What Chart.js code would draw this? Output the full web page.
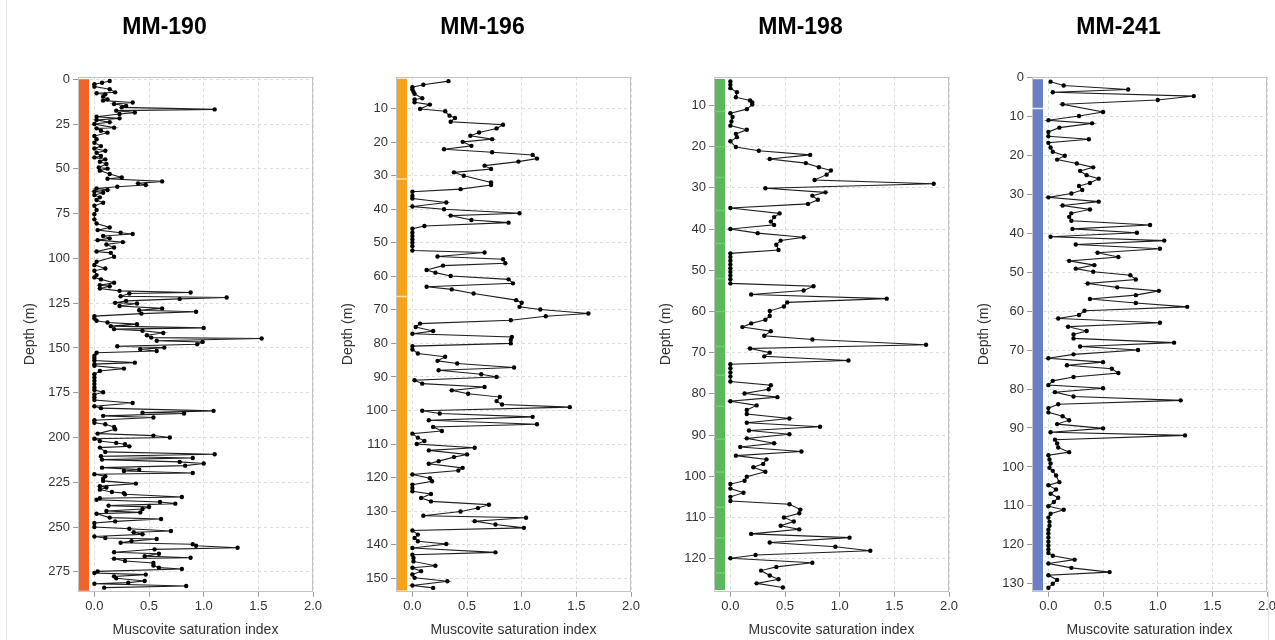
<!DOCTYPE html>
<html>
<head>
<meta charset="utf-8">
<title>Muscovite saturation index</title>
<script src="https://cdn.jsdelivr.net/npm/chart.js@4.4.1/dist/chart.umd.min.js"></script>
<style>
  html, body { margin: 0; padding: 0; background: #fff; }
  body { width: 1275px; height: 640px; position: relative; overflow: hidden; }
  .painel { position: absolute; top: 0; width: 330px; height: 640px; }
  .borda-esq { position: absolute; left: 6px; top: 0; width: 0; height: 640px; border-left: 1px solid #e4e4e4; }
  .borda-dir { position: absolute; left: 1268px; top: 590px; width: 0; height: 50px; border-left: 1px solid #e4e4e4; }
</style>
</head>
<body>
<div class="borda-esq"></div>
<div class="borda-dir"></div>
<div class="painel" style="left:0px"><canvas id="grafico1"></canvas></div>
<div class="painel" style="left:318px"><canvas id="grafico2"></canvas></div>
<div class="painel" style="left:636px"><canvas id="grafico3"></canvas></div>
<div class="painel" style="left:954px"><canvas id="grafico4"></canvas></div>
<script>
// Eixo X comum
const xTicks = [0, 0.5, 1.0, 1.5, 2.0];

// MM-190
const mm190Prof = [0.95, 1.9, 2.8, 4.1, 5.6, 7.3, 7.8, 8.4, 9.7, 11.2, 11.9, 13.0, 13.8, 14.9, 15.7, 16.8, 17.5, 18.6, 19.4, 20.9,
  21.8, 22.7, 23.9, 25.0, 27.0, 27.4, 28.7, 29.8, 31.7, 33.5, 35.4, 37.3, 38.6, 39.9, 41.0, 42.8, 43.6, 44.7, 46.0, 47.3,
  49.2, 49.9, 51.0, 52.9, 54.8, 55.5, 57.0, 58.1, 59.0, 60.0, 60.9, 61.8, 62.6, 63.3, 64.6, 65.9, 67.4, 68.9, 70.6, 73.0,
  75.3, 78.2, 80.5, 82.7, 84.2, 85.7, 86.4, 87.5, 88.8, 89.8, 90.9, 92.2, 93.9, 96.1, 96.9, 99.1, 101.9, 103.7, 105.6, 106.9,
  109.3, 110.6, 111.7, 113.6, 114.9, 115.5, 116.8, 118.1, 119.0, 119.6, 121.1, 121.8, 122.6, 123.7, 124.8, 125.2, 126.6, 127.9, 128.9, 129.8,
  130.8, 132.2, 133.5, 134.8, 135.8, 136.7, 137.8, 138.8, 139.5, 140.4, 141.6, 142.9, 144.2, 144.7, 146.0, 146.6, 147.9, 149.0, 149.8, 150.7,
  151.7, 152.7, 154.3, 155.6, 157.0, 158.2, 159.0, 159.9, 161.5, 162.8, 164.7, 166.5, 168.3, 170.1, 172.0, 173.5, 174.7, 176.0, 177.5, 179.0,
  180.7, 182.5, 183.6, 185.1, 186.1, 186.6, 187.9, 188.8, 190.3, 191.8, 192.6, 194.1, 195.4, 197.8, 198.9, 200.0, 200.7, 201.9, 203.0, 203.7,
  204.9, 205.6, 208.0, 209.3, 210.4, 211.4, 212.3, 213.6, 214.5, 215.7, 216.8, 217.9, 218.7, 219.8, 220.5, 221.6, 223.0, 224.2, 225.7, 227.2,
  227.9, 229.1, 230.4, 231.0, 231.7, 233.2, 233.9, 234.7, 236.0, 236.9, 238.0, 238.8, 239.9, 241.0, 241.8, 242.5, 244.7, 245.5, 246.8, 247.7,
  249.9, 250.9, 252.2, 252.9, 254.0, 255.2, 256.1, 256.6, 257.8, 258.7, 259.6, 260.4, 261.5, 262.4, 264.0, 264.9, 266.2, 267.1, 267.6, 268.9,
  270.0, 271.4, 272.6, 273.4, 274.7, 275.6, 276.5, 277.5, 278.6, 280.1, 281.0, 281.6, 282.9, 283.8];
const mm190SI = [0.14, 0.07, 0.00, 0.00, 0.14, 0.19, 0.02, 0.10, 0.08, 0.12, 0.08, 0.35, 0.18, 0.29, 0.25, 1.10, 0.20, 0.37, 0.23, 0.02,
  0.23, 0.02, 0.14, 0.00, 0.18, 0.02, 0.06, 0.12, 0.00, 0.02, 0.00, 0.06, 0.00, 0.10, 0.02, 0.06, 0.00, 0.10, 0.05, 0.11,
  0.04, 0.12, 0.05, 0.14, 0.25, 0.12, 0.62, 0.40, 0.47, 0.21, 0.02, 0.12, 0.00, 0.08, 0.00, 0.05, 0.02, 0.08, 0.00, 0.02,
  0.00, 0.00, 0.02, 0.14, 0.03, 0.24, 0.35, 0.08, 0.14, 0.03, 0.26, 0.11, 0.18, 0.02, 0.15, 0.18, 0.02, 0.00, 0.10, 0.00,
  0.02, 0.00, 0.06, 0.18, 0.05, 0.14, 0.05, 0.23, 0.88, 0.32, 0.24, 1.21, 0.78, 0.29, 0.19, 0.39, 0.23, 0.62, 0.41, 0.93,
  0.43, 0.00, 0.00, 0.02, 0.12, 0.39, 0.15, 1.00, 0.18, 0.44, 0.63, 0.48, 0.52, 1.53, 0.57, 0.99, 0.94, 0.21, 0.64, 0.42,
  0.57, 0.02, 0.00, 0.00, 0.00, 0.37, 0.00, 0.00, 0.27, 0.05, 0.00, 0.00, 0.00, 0.00, 0.00, 0.00, 0.08, 0.00, 0.00, 0.00,
  0.35, 0.00, 0.06, 1.09, 0.44, 0.82, 0.08, 0.54, 0.00, 0.00, 0.10, 0.18, 0.19, 0.03, 0.54, 0.69, 0.00, 0.05, 0.20, 0.28,
  0.32, 0.05, 0.10, 1.10, 0.06, 0.90, 0.07, 0.78, 1.00, 0.83, 0.07, 0.41, 0.27, 0.90, 0.00, 0.10, 0.08, 0.08, 0.38, 0.05,
  0.11, 0.05, 0.16, 0.27, 0.28, 0.80, 0.05, 0.02, 0.60, 0.74, 0.13, 0.50, 0.44, 0.11, 0.42, 0.02, 0.14, 0.61, 0.19, 0.00,
  0.00, 0.32, 0.70, 0.36, 0.44, 0.00, 0.10, 0.57, 0.34, 0.24, 0.90, 0.93, 1.31, 0.55, 0.18, 0.59, 0.46, 0.88, 0.18, 0.28,
  0.54, 0.54, 0.59, 0.80, 0.03, 0.00, 0.47, 0.18, 0.20, 0.46, 0.31, 0.00, 0.84, 0.09];
const mm190Ticks = [0, 25, 50, 75, 100, 125, 150, 175, 200, 225, 250, 275];
const mm190Coluna = [0, 285.5];
const mm190Limites = [];

// MM-196
const mm196Prof = [1.8, 2.9, 3.6, 4.3, 5.0, 5.6, 6.9, 7.3, 8.1, 8.8, 10.1, 10.8, 12.1, 12.8, 13.9, 14.8, 15.9, 17.1, 18.1, 19.1,
  19.9, 21.1, 22.1, 23.0, 23.8, 24.9, 25.8, 27.0, 28.0, 29.0, 30.0, 32.0, 32.8, 34.0, 34.8, 36.0, 36.8, 38.0, 39.2, 40.0,
  41.2, 41.9, 43.2, 44.0, 45.0, 45.8, 47.0, 48.0, 49.0, 50.0, 51.0, 52.3, 52.9, 54.1, 54.9, 56.1, 56.8, 58.1, 58.9, 59.9,
  60.9, 62.1, 63.1, 63.9, 65.1, 67.1, 67.9, 69.1, 69.9, 71.1, 71.9, 73.1, 74.1, 75.1, 76.3, 77.1, 78.1, 79.0, 80.0, 80.8,
  81.8, 83.0, 84.0, 85.2, 86.0, 87.2, 88.0, 89.2, 90.0, 91.0, 92.0, 93.0, 94.0, 95.0, 96.0, 97.2, 98.2, 99.0, 100.1, 100.9,
  101.9, 102.9, 104.1, 104.9, 106.1, 106.9, 108.1, 109.1, 110.0, 111.1, 111.9, 113.1, 113.9, 115.1, 115.9, 117.1, 117.9, 119.1, 120.2, 121.1,
  122.1, 123.1, 124.1, 124.9, 126.1, 127.1, 128.1, 129.1, 130.1, 131.4, 132.0, 133.0, 134.0, 135.0, 135.8, 137.0, 138.0, 139.0, 139.8, 141.0,
  142.3, 143.0, 144.0, 145.0, 146.3, 146.9, 147.9, 148.9, 149.9, 150.9, 152.2, 152.9];
const mm196SI = [0.33, 0.10, 0.00, 0.00, 0.01, 0.02, 0.09, 0.02, 0.02, 0.16, 0.07, 0.30, 0.34, 0.39, 0.35, 0.83, 0.77, 0.61, 0.53, 0.73,
  0.46, 0.54, 0.29, 0.73, 1.10, 1.14, 0.97, 0.66, 0.72, 0.38, 0.47, 0.72, 0.72, 0.44, 0.00, 0.00, 0.00, 0.31, 0.00, 0.29,
  0.98, 0.35, 0.54, 0.88, 0.11, 0.00, 0.00, 0.00, 0.00, 0.00, 0.00, 0.00, 0.66, 0.23, 0.83, 0.85, 0.28, 0.13, 0.21, 0.35,
  0.88, 0.92, 0.13, 0.36, 0.56, 0.95, 1.00, 0.98, 1.17, 1.61, 1.22, 0.90, 0.07, 0.03, 0.19, 0.00, 0.91, 0.90, 0.90, 0.00,
  0.00, 0.05, 0.30, 0.23, 0.41, 0.93, 0.24, 0.63, 0.77, 0.02, 0.09, 0.66, 0.36, 0.51, 0.80, 0.77, 0.82, 1.44, 0.09, 0.25,
  1.10, 0.15, 1.14, 0.19, 0.27, 0.00, 0.05, 0.11, 0.04, 0.57, 0.15, 0.50, 0.38, 0.24, 0.15, 0.46, 0.42, 0.00, 0.16, 0.18,
  0.00, 0.00, 0.00, 0.17, 0.08, 0.17, 0.70, 0.60, 0.44, 0.10, 1.04, 0.57, 0.76, 1.02, 0.00, 0.05, 0.02, 0.05, 0.31, 0.00,
  0.76, 0.00, 0.01, 0.01, 0.21, 0.00, 0.08, 0.00, 0.02, 0.32, 0.00, 0.19];
const mm196Ticks = [10, 20, 30, 40, 50, 60, 70, 80, 90, 100, 110, 120, 130, 140, 150];
const mm196Coluna = [1.1, 153.7];
const mm196Limites = [31, 66];

// MM-198
const mm198Prof = [4.2, 5.0, 5.8, 6.8, 8.0, 8.8, 9.3, 9.8, 10.9, 11.9, 12.8, 13.9, 14.9, 15.9, 16.9, 17.7, 18.7, 20.1, 21.0, 22.0,
  23.0, 24.0, 25.0, 25.8, 26.8, 28.1, 29.0, 30.1, 31.1, 31.9, 32.9, 33.9, 34.9, 36.2, 37.1, 38.2, 39.0, 40.0, 41.0, 42.0,
  42.8, 43.8, 45.1, 45.9, 46.8, 47.7, 48.6, 49.5, 50.4, 51.3, 52.2, 53.2, 53.9, 54.9, 55.9, 56.9, 57.8, 58.8, 59.9, 61.1,
  62.0, 62.9, 63.8, 64.8, 65.9, 66.8, 68.1, 69.0, 70.0, 70.9, 71.9, 72.8, 73.8, 74.8, 75.8, 77.0, 77.9, 78.9, 79.9, 80.8,
  81.8, 82.8, 83.9, 84.9, 86.0, 87.0, 88.0, 88.9, 89.8, 90.8, 92.0, 92.9, 94.0, 95.0, 95.9, 97.0, 97.8, 98.9, 100.1, 101.1,
  101.9, 103.0, 104.0, 105.0, 106.0, 106.8, 108.1, 109.0, 110.0, 111.0, 112.0, 112.9, 114.0, 114.9, 116.1, 117.1, 118.1, 119.1, 119.9, 121.0,
  122.0, 122.9, 124.1, 125.0, 126.0, 127.0];
const mm198SI = [0.00, 0.00, 0.00, 0.06, 0.05, 0.18, 0.20, 0.20, 0.15, 0.00, 0.02, 0.01, 0.00, 0.15, 0.05, 0.06, 0.00, 0.05, 0.26, 0.73,
  0.36, 0.69, 0.81, 0.92, 0.88, 0.77, 1.86, 0.32, 0.87, 0.75, 0.80, 0.71, 0.00, 0.45, 0.40, 0.37, 0.40, 0.00, 0.25, 0.67,
  0.46, 0.42, 0.44, 0.00, 0.00, 0.00, 0.00, 0.00, 0.00, 0.00, 0.00, 0.00, 0.76, 0.67, 0.19, 1.43, 0.52, 0.49, 0.36, 0.36,
  0.32, 0.19, 0.11, 0.37, 0.31, 0.75, 1.79, 0.18, 0.36, 0.31, 1.08, 0.00, 0.00, 0.00, 0.00, 0.00, 0.37, 0.35, 0.13, 0.43,
  0.00, 0.24, 0.15, 0.15, 0.54, 0.15, 0.82, 0.17, 0.54, 0.15, 0.40, 0.09, 0.65, 0.05, 0.33, 0.30, 0.21, 0.32, 0.15, 0.13,
  0.00, 0.00, 0.12, 0.00, 0.00, 0.54, 0.64, 0.63, 0.49, 0.58, 0.46, 0.63, 0.19, 1.09, 0.36, 0.96, 1.28, 0.23, 0.00, 0.75,
  0.42, 0.28, 0.36, 0.44, 0.24, 0.48];
const mm198Ticks = [10, 20, 30, 40, 50, 60, 70, 80, 90, 100, 110, 120];
const mm198Coluna = [3.6, 127.6];
const mm198Limites = [11.5, 20, 27.5, 35.5, 43.5, 52, 60, 68.5, 75.5, 83, 91, 99, 107.5, 115, 123.5];

// MM-241
const mm241Prof = [1.1, 2.1, 3.1, 3.8, 4.8, 5.8, 6.9, 8.9, 9.9, 11.0, 11.8, 12.9, 14.0, 15.1, 15.9, 16.8, 18.0, 19.1, 20.1, 21.1,
  22.1, 23.1, 24.0, 25.1, 26.0, 27.1, 27.9, 28.9, 29.8, 30.8, 31.9, 32.9, 33.9, 34.9, 35.8, 36.8, 37.9, 38.9, 39.9, 40.9,
  41.9, 42.9, 44.0, 45.0, 46.1, 47.1, 48.2, 49.1, 49.9, 50.8, 51.9, 52.9, 53.9, 54.8, 55.9, 56.9, 57.9, 58.9, 59.9, 61.0,
  61.9, 63.0, 64.0, 65.1, 66.0, 67.0, 68.1, 69.1, 70.0, 71.1, 72.1, 73.1, 73.9, 74.8, 75.9, 76.9, 77.9, 79.0, 79.8, 80.8,
  81.9, 82.9, 83.9, 84.9, 86.0, 87.0, 88.0, 89.0, 90.1, 91.1, 91.9, 93.0, 94.0, 95.0, 96.2, 97.0, 98.1, 99.1, 100.2, 101.0,
  102.2, 103.9, 104.7, 105.8, 106.9, 107.9, 109.0, 110.1, 111.0, 112.0, 113.0, 114.1, 115.1, 116.1, 117.1, 118.1, 119.2, 120.2, 121.2, 122.1,
  122.8, 123.8, 124.8, 125.9, 127.0, 127.8, 129.0, 130.0, 131.0];
const mm241SI = [0.02, 0.14, 0.73, 0.04, 1.33, 1.00, 0.13, 0.50, 0.28, 0.00, 0.40, 0.10, 0.00, 0.00, 0.37, 0.00, 0.02, 0.04, 0.15, 0.08,
  0.26, 0.41, 0.29, 0.35, 0.46, 0.38, 0.28, 0.31, 0.21, 0.00, 0.46, 0.13, 0.38, 0.21, 0.19, 0.21, 0.93, 0.22, 0.81, 0.02,
  1.06, 0.25, 1.02, 0.45, 0.64, 0.19, 0.42, 0.25, 0.41, 0.75, 0.80, 0.36, 0.63, 1.01, 0.80, 0.38, 0.80, 1.27, 0.33, 0.28,
  0.09, 1.02, 0.18, 0.35, 0.23, 0.23, 1.15, 0.29, 0.82, 0.23, 0.00, 0.50, 0.17, 0.58, 0.64, 0.23, 0.04, 0.00, 0.50, 0.06,
  0.23, 1.21, 0.09, 0.00, 0.00, 0.13, 0.19, 0.08, 0.50, 0.02, 1.25, 0.06, 0.08, 0.09, 0.19, 0.00, 0.01, 0.02, 0.01, 0.04,
  0.07, 0.10, 0.00, 0.07, 0.02, 0.09, 0.05, 0.00, 0.14, 0.02, 0.00, 0.01, 0.01, 0.00, 0.00, 0.00, 0.00, 0.00, 0.00, 0.00,
  0.04, 0.24, 0.00, 0.21, 0.56, 0.00, 0.08, 0.04, 0.00];
const mm241Ticks = [0, 10, 20, 30, 40, 50, 60, 70, 80, 90, 100, 110, 120, 130];
const mm241Coluna = [0.5, 131.7];
const mm241Limites = [8];

const fonte = "'Liberation Sans', Arial, sans-serif";
const xMin = -0.15;
const colunaX = -0.095;

// moldura cinza em volta da area do grafico
const moldura = {
  id: 'moldura',
  beforeDatasetsDraw(chart) {
    const a = chart.chartArea;
    const ctx = chart.ctx;
    ctx.save();
    ctx.strokeStyle = '#c4c4c4';
    ctx.lineWidth = 1;
    ctx.strokeRect(Math.round(a.left) + 0.5, Math.round(a.top) + 0.5, Math.round(a.right - a.left) - 1, Math.round(a.bottom - a.top) - 1);
    ctx.restore();
  }
};

function criaGrafico(id, titulo, prof, si, yTicks, yMin, yMax, coluna, limites, cor, corLimite) {
  const pontos = prof.map((p, i) => ({ x: si[i], y: p }));
  const colunaPts = [{ x: colunaX, y: coluna[0] }, { x: colunaX, y: coluna[1] }];
  const limitePts = [];
  limites.forEach(d => {
    limitePts.push({ x: xMin, y: d }, { x: -0.045, y: d }, { x: null, y: null });
  });

  return new Chart(document.getElementById(id), {
    type: 'scatter',
    data: {
      datasets: [
        {
          data: pontos,
          showLine: true,
          borderColor: '#1e1e1e',
          borderWidth: 1.1,
          pointRadius: 2.2,
          pointHoverRadius: 2.2,
          pointBackgroundColor: '#000',
          pointBorderWidth: 0
        },
        {
          data: limitePts,
          showLine: true,
          spanGaps: false,
          borderColor: corLimite,
          borderWidth: 1.5,
          pointRadius: 0
        },
        {
          data: colunaPts,
          showLine: true,
          borderColor: cor,
          borderWidth: 10,
          borderCapStyle: 'butt',
          pointRadius: 0
        }
      ]
    },
    options: {
      responsive: true,
      maintainAspectRatio: false,
      animation: false,
      layout: { padding: { left: 16, right: 17, top: 0, bottom: 1 } },
      plugins: {
        legend: { display: false },
        tooltip: { enabled: false },
        title: {
          display: true,
          text: titulo,
          color: '#000',
          font: { family: fonte, size: 23, weight: 'bold' },
          padding: { top: 14, bottom: 35 }
        }
      },
      scales: {
        x: {
          type: 'linear',
          min: xMin,
          max: 2.0,
          afterBuildTicks: ax => { ax.ticks = xTicks.map(v => ({ value: v })); },
          ticks: {
            callback: v => v.toFixed(1),
            color: '#333',
            font: { family: fonte, size: 13 },
            padding: 2,
            maxRotation: 0,
            autoSkip: false
          },
          grid: { color: '#dcdcdc', tickColor: '#999', tickLength: 5 },
          border: { display: false, dash: [3, 3] },
          title: {
            display: true,
            text: 'Muscovite saturation index',
            color: '#333',
            font: { family: fonte, size: 14 },
            padding: { top: 6, bottom: 0 }
          }
        },
        y: {
          type: 'linear',
          reverse: true,
          min: yMin,
          max: yMax,
          afterBuildTicks: ax => { ax.ticks = yTicks.map(v => ({ value: v })); },
          afterFit: ax => { ax.width = 62; },
          ticks: {
            color: '#333',
            font: { family: fonte, size: 13 },
            padding: 3,
            autoSkip: false
          },
          grid: { color: '#dcdcdc', tickColor: '#999', tickLength: 5 },
          border: { display: false, dash: [3, 3] },
          title: {
            display: true,
            text: 'Depth (m)',
            color: '#333',
            font: { family: fonte, size: 14 },
            padding: { top: 5.6, bottom: 0 }
          }
        }
      }
    },
    plugins: [moldura]
  });
}

criaGrafico('grafico1', 'MM-190', mm190Prof, mm190SI, mm190Ticks, -1.5, 286, mm190Coluna, mm190Limites, '#f0632a', '#f0632a');
criaGrafico('grafico2', 'MM-196', mm196Prof, mm196SI, mm196Ticks, 0.45, 154, mm196Coluna, mm196Limites, '#f5a31a', '#fbe2b4');
criaGrafico('grafico3', 'MM-198', mm198Prof, mm198SI, mm198Ticks, 3, 128, mm198Coluna, mm198Limites, '#5cb85c', '#79c679');
criaGrafico('grafico4', 'MM-241', mm241Prof, mm241SI, mm241Ticks, -0.2, 132, mm241Coluna, mm241Limites, '#6b80c4', '#e6eaf6');
</script>
</body>
</html>
